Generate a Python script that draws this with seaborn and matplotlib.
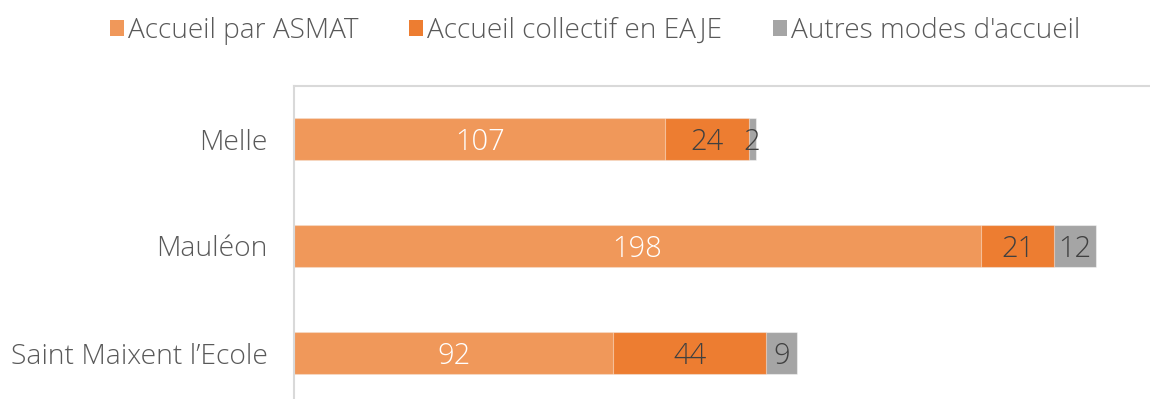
import matplotlib
matplotlib.use("Agg")
import matplotlib.pyplot as plt
from matplotlib.patches import Patch
import seaborn as sns
import pandas as pd
import numpy as np

# Data
communes = ["Melle", "Mauléon", "Saint Maixent l\u2019Ecole"]
asmat = [107, 198, 92]
eaje = [24, 21, 44]
autres = [2, 12, 9]
modes = ["Accueil par ASMAT", "Accueil collectif en EAJE", "Autres modes d'accueil"]
colors = ["#F0985A", "#ED7D31", "#A5A5A5"]
label_colors = ["white", "#404040", "#404040"]

sns.set_style("white")
plt.rcParams["font.family"] = ["Open Sans", "DejaVu Sans"]
plt.rcParams["font.weight"] = "light"

df = pd.DataFrame({"commune": communes, "asmat": asmat, "eaje": eaje, "autres": autres})
df["cum1"] = df["asmat"]
df["cum2"] = df["asmat"] + df["eaje"]
df["cum3"] = df["cum2"] + df["autres"]

fig = plt.figure(figsize=(11.5, 3.99), dpi=100)
ax = fig.add_axes([294 / 1150, -7.5 / 399, 1 - 294 / 1150 + 0.01, 321 / 399])

edge = (1, 1, 1, 0.45)
# Stacked bars drawn as cumulative totals, widest first
for col, c in zip(["cum3", "cum2", "cum1"], colors[::-1]):
    sns.barplot(data=df, x=col, y="commune", color=c, orient="h", width=0.39,
                edgecolor=edge, linewidth=0.8, ax=ax, saturation=1)

# Segment value labels
for i, row in df.iterrows():
    starts = [0, row["cum1"], row["cum2"]]
    vals = [row["asmat"], row["eaje"], row["autres"]]
    for s, v, tc in zip(starts, vals, label_colors):
        ax.text(s + v / 2, i, f"{v}", ha="center", va="center_baseline",
                fontsize=21, color=tc, fontweight="light")

ax.set_xlim(0, 250.0)
ax.set_ylim(2.5, -0.5)
ax.set_xlabel("")
ax.set_ylabel("")
ax.set_xticks([])
ax.tick_params(axis="y", length=0, pad=19, labelsize=20.3, labelcolor="#595959")
for lbl in ax.get_yticklabels():
    lbl.set_fontweight("light")
for side in ["right", "bottom"]:
    ax.spines[side].set_visible(False)
for side in ["left", "top"]:
    ax.spines[side].set_color("#D9D9D9")
    ax.spines[side].set_linewidth(1.5)

handles = [Patch(facecolor=c, edgecolor="none") for c in colors]
leg = fig.legend(handles, modes, loc="center", bbox_to_anchor=(595 / 1150, 1 - 31 / 399),
                 ncol=3, frameon=False, fontsize=20.2, handlelength=0.5, handleheight=0.5,
                 handletextpad=0.15, columnspacing=1.8, labelcolor="#595959")
for t in leg.get_texts():
    t.set_fontweight("light")

fig.savefig("out.png", dpi=100)
